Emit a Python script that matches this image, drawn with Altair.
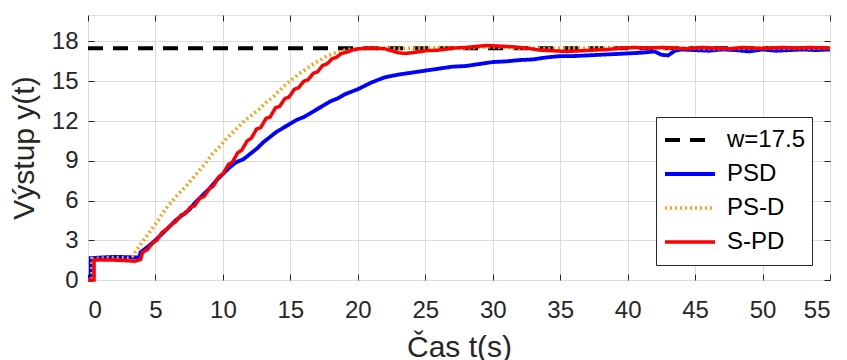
import altair as alt
import pandas as pd

FONT = "Liberation Sans"
TXT = "#262626"

names = ["w=17.5", "PSD", "PS-D", "S-PD"]
colors = ["#000000", "#0000FF", "#F2A41C", "#FF0000"]
dashes = [[15, 10], [1, 0], [2, 3], [1, 0]]
widths = [4, 3.5, 2.5, 3.5]

w_t = [0, 55]
w_y = [17.5, 17.5]

psd_t = [0, 0.2, 0.2, 1, 2, 3, 3.8, 3.9, 4.3, 5, 5.5, 6, 6.5, 7, 7.5, 8, 8.5, 9, 9.5, 10,
         10.5, 11, 11.5, 12, 12.5, 13, 13.5, 14, 14.5, 15, 15.5, 16, 16.5, 17, 17.5, 18, 18.5,
         19, 19.5, 20, 21, 22, 23, 24, 25, 26, 27, 28, 29, 30, 31, 32, 33, 34, 35, 36, 37, 38,
         39, 40, 41, 42, 42.5, 43, 43.5, 44, 45, 46, 47, 48, 49, 50, 51, 52, 53, 54, 55]
psd_y = [0, 0, 1.65, 1.7, 1.75, 1.72, 1.7, 2.1, 2.4, 3.0, 3.5, 4.0, 4.5, 4.9, 5.3, 5.9, 6.4, 6.9, 7.5, 8.0,
         8.5, 8.9, 9.1, 9.5, 9.9, 10.4, 10.8, 11.2, 11.5, 11.8, 12.1, 12.3, 12.6, 12.9, 13.2, 13.5, 13.7,
         14.0, 14.2, 14.4, 14.9, 15.3, 15.5, 15.65, 15.8, 15.95, 16.1, 16.15, 16.3, 16.45, 16.5, 16.6, 16.65, 16.8, 16.9, 16.9, 16.95, 17.0,
         17.05, 17.1, 17.15, 17.25, 17.0, 16.95, 17.3, 17.4, 17.35, 17.3, 17.4, 17.35, 17.25, 17.4, 17.3, 17.35, 17.4, 17.35, 17.4]

psd2_t = [0, 0.3, 0.3, 1, 2, 3, 3.3, 3.7, 4.2, 4.7, 5.2, 5.7, 6.2, 6.7, 7.2, 7.7, 8.2, 8.7, 9.2, 9.7,
          10.2, 10.7, 11.2, 11.7, 12.2, 12.7, 13.2, 13.7, 14.2, 14.7, 15.2, 15.7, 16.2, 16.7, 17.2, 17.7,
          18.2, 18.7, 19.2, 20, 21, 22, 23, 24, 25, 26, 27, 28, 29, 30, 31, 32, 33, 34, 35, 37, 39, 41,
          43, 45, 47, 49, 51, 53, 55]
psd2_y = [0, 0, 1.6, 1.65, 1.7, 1.65, 1.8, 2.4, 3.1, 3.8, 4.5, 5.3, 5.9, 6.5, 7.0, 7.6, 8.2, 8.8, 9.5, 10.0,
          10.6, 11.1, 11.6, 12.1, 12.5, 12.9, 13.4, 13.8, 14.3, 14.8, 15.2, 15.6, 15.95, 16.3, 16.6, 16.9,
          17.1, 17.25, 17.4, 17.45, 17.5, 17.5, 17.45, 17.5, 17.5, 17.55, 17.5, 17.5, 17.55, 17.6, 17.55, 17.5, 17.5, 17.45, 17.5, 17.5, 17.55, 17.5,
          17.5, 17.5, 17.45, 17.5, 17.5, 17.5, 17.5]

spd_t = [0, 0.45, 0.45, 1, 2, 3, 3.5, 3.9, 4.05, 4.4, 4.8, 5.1, 5.5, 5.8, 6.2, 6.5, 6.9, 7.2, 7.6, 7.9,
         8.3, 8.6, 9.0, 9.3, 9.7, 10.0, 10.4, 10.7, 11.1, 11.4, 11.8, 12.1, 12.5, 12.8, 13.2, 13.5, 13.9,
         14.2, 14.6, 14.9, 15.3, 15.6, 16.0, 16.3, 16.7, 17.0, 17.4, 17.7, 18.1, 18.4, 18.8, 19.2, 19.6,
         20, 21, 22, 22.5, 23, 23.5, 24, 25, 26, 27, 28, 29, 29.6, 30.5, 31.5, 32.5, 33.5, 34.5, 35.5,
         36.5, 37.5, 38.5, 39.5, 40.5, 41.5, 42.5, 43.5, 44.5, 45.5, 46.5, 47.5, 48.5, 49.5, 50.5, 51.5,
         52.5, 53.5, 55]
spd_y = [0, 0, 1.5, 1.52, 1.5, 1.45, 1.42, 1.55, 2.1, 2.3, 2.8, 3.0, 3.6, 3.8, 4.2, 4.4, 4.9, 5.0, 5.5, 5.6,
         6.2, 6.3, 6.9, 7.1, 7.8, 8.0, 8.7, 8.9, 9.6, 9.8, 10.5, 10.7, 11.4, 11.5, 12.2, 12.3, 13.0,
         13.1, 13.7, 13.8, 14.4, 14.5, 15.0, 15.1, 15.6, 15.7, 16.2, 16.3, 16.7, 16.8, 17.1, 17.2, 17.35,
         17.45, 17.5, 17.45, 17.3, 17.15, 17.1, 17.15, 17.3, 17.35, 17.5, 17.55, 17.65, 17.7, 17.65, 17.6, 17.5, 17.35, 17.3, 17.25,
         17.3, 17.35, 17.4, 17.5, 17.55, 17.5, 17.55, 17.5, 17.45, 17.55, 17.5, 17.45, 17.55, 17.5, 17.5, 17.55,
         17.5, 17.55, 17.5]

series = [(names[0], w_t, w_y), (names[1], psd_t, psd_y), (names[2], psd2_t, psd2_y), (names[3], spd_t, spd_y)]
rows = []
for name, ts, ys in series:
    for i, (t, y) in enumerate(zip(ts, ys)):
        rows.append({"s": name, "t": t, "y": y, "i": i})
df = pd.DataFrame(rows)

xscale = alt.Scale(domain=[0, 55], nice=False, zero=False)
yscale = alt.Scale(domain=[0, 20], nice=False)
xticks = list(range(0, 56, 5))
yticks = list(range(0, 19, 3))

legend = alt.Legend(
    title=None, orient="none", legendX=568, legendY=102,
    strokeColor=TXT, fillColor="white", padding=6,
    labelFont=FONT, labelFontSize=24, labelColor="#000000", labelOffset=10,
    labelExpr="datum.label + '\u2002'",
    symbolType="stroke", symbolSize=2500, symbolStrokeWidth=3, rowPadding=0,
    clipHeight=34, symbolOffset=1, labelLimit=300,
)

x_bottom = alt.Axis(
    values=xticks, orient="bottom", offset=-6, tickSize=6, domain=False, tickColor=TXT,
    grid=True, gridColor="#DCDCDC", gridWidth=1,
    labelFont=FONT, labelFontSize=24, labelColor=TXT, labelPadding=18.5,
    title="Čas t(s)", titleFont=FONT, titleFontSize=30, titleFontWeight="normal",
    titleColor=TXT, titlePadding=10,
)
y_left = alt.Axis(
    values=yticks, orient="left", offset=-6, tickSize=6, domain=False, tickColor=TXT,
    grid=True, gridColor="#DCDCDC", gridWidth=1,
    labelFont=FONT, labelFontSize=24, labelColor=TXT, labelPadding=10,
    title="Výstup y(t)", titleFont=FONT, titleFontSize=30, titleFontWeight="normal",
    titleColor=TXT, titlePadding=12,
)

def line_layer(name):
    return alt.Chart(df).transform_filter(alt.datum.s == name).mark_line().encode(
        x=alt.X("t:Q", scale=xscale, axis=x_bottom),
        y=alt.Y("y:Q", scale=yscale, axis=y_left),
        color=alt.Color("s:N", scale=alt.Scale(domain=names, range=colors), legend=legend),
        strokeDash=alt.StrokeDash("s:N", scale=alt.Scale(domain=names, range=dashes), legend=legend),
        strokeWidth=alt.StrokeWidth("s:N", scale=alt.Scale(domain=names, range=widths), legend=None),
        order=alt.Order("i:Q"),
    )

lines = alt.layer(*[line_layer(n) for n in names])

frame = alt.Chart(df).transform_filter(alt.datum.s == names[0]).mark_line(opacity=0).encode(
    x=alt.X("t:Q", scale=xscale, axis=alt.Axis(values=xticks, orient="top", offset=-6, tickSize=6,
                                              domain=False, labels=False, grid=False, tickColor=TXT, title=None)),
    y=alt.Y("y:Q", scale=yscale, axis=alt.Axis(values=yticks, orient="right", offset=-6, tickSize=6,
                                              domain=False, labels=False, grid=False, tickColor=TXT, title=None)),
)

chart = alt.layer(lines, frame).resolve_axis(x="independent", y="independent").properties(
    width=742, height=265,
    autosize=alt.AutoSizeParams(type="none"),
    padding={"left": 80, "top": 7, "right": 9, "bottom": 80},
).configure_view(stroke=TXT, strokeWidth=1).configure(background="white")

chart.save("out.html", embed_options={"renderer": "svg", "actions": False})
